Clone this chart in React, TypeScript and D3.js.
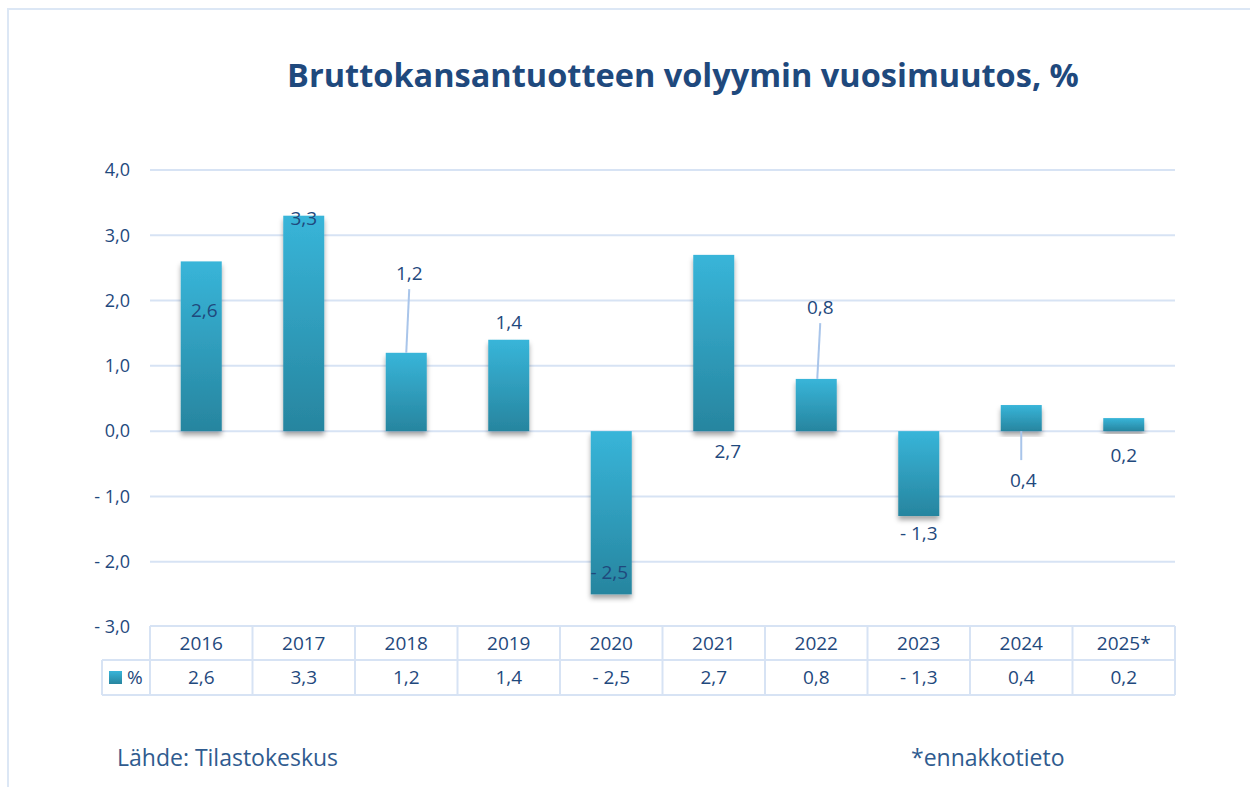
import React from 'react';
import * as d3 from 'd3';

const years = ['2016', '2017', '2018', '2019', '2020', '2021', '2022', '2023', '2024', '2025*'];
const values = [2.6, 3.3, 1.2, 1.4, -2.5, 2.7, 0.8, -1.3, 0.4, 0.2];
// where each data label sits, in axis units (Excel moved some of them by hand)
const labelAt = [1.85, 3.26, 2.42, 1.67, -2.17, -0.31, 1.9, -1.56, -0.75, -0.37];
const labelShift = [3, 0, 3, 0, -2, 14, 4, 0, 2, 0];
const leaderLines = [false, false, true, false, false, false, true, false, true, false];
const yTicks = [-3, -2, -1, 0, 1, 2, 3, 4];

const TITLE = 'Bruttokansantuotteen volyymin vuosimuutos, %';
const SOURCE = 'Lähde: Tilastokeskus';
const NOTE = '*ennakkotieto';

const W = 1250;
const H = 787;
const LEFT = 150;
const RIGHT = 1175;
const TEXT = '#1f497d';
const GRID = '#d7e3f4';
const FONT = '"Open Sans", Lato, sans-serif';

const fmt = (v: number) => {
    const s = Math.abs(v).toFixed(1).replace('.', ',');
    return v < 0 ? `- ${s}` : s;
};

const App = () => {
    const y = d3.scaleLinear([-3, 4], [627, 170]);
    const x = d3
        .scaleBand<string>(years, [LEFT, RIGHT])
        .paddingInner(0.6)
        .paddingOuter(0.3);
    const col = d3.scaleBand<string>(years, [LEFT, RIGHT]);
    const rowTop = y(-3) - 1;
    const rowMid = 660;
    const rowBot = 695;

    return (
        <svg
            width={W}
            height={H}
            style={{ position: 'absolute', left: 0, top: 0, background: '#fff' }}
            fontFamily={FONT}
        >
            <defs>
                <linearGradient id='barFill' x1='0' y1='0' x2='0' y2='1'>
                    <stop offset='0%' stopColor='#38b5d9' />
                    <stop offset='100%' stopColor='#27859f' />
                </linearGradient>
                <filter id='shadow' x='-30%' y='-10%' width='160%' height='130%'>
                    <feDropShadow dx='0' dy='4' stdDeviation='2.5' floodColor='#000' floodOpacity='0.35' />
                </filter>
            </defs>

            {/* outer frame, only top and left edges visible */}
            <rect x={8} y={9} width={W + 20} height={H + 20} fill='none' stroke='#dce7f5' strokeWidth={2} />

            <text
                x={683}
                y={87}
                textAnchor='middle'
                fontSize={32.5}
                fontWeight={700}
                fill={TEXT}
            >
                {TITLE}
            </text>

            {/* gridlines + y ticks */}
            {yTicks.map(t => (
                <g key={t}>
                    {t > -3 && (
                        <line x1={LEFT} x2={RIGHT} y1={y(t)} y2={y(t)} stroke={GRID} strokeWidth={2} />
                    )}
                    <text
                        x={130}
                        y={y(t)}
                        dy='0.35em'
                        textAnchor='end'
                        fontSize={18}
                        fill={TEXT}
                    >
                        {fmt(t)}
                    </text>
                </g>
            ))}

            {/* bars */}
            {values.map((v, i) => {
                const top = y(Math.max(0, v));
                const bot = y(Math.min(0, v));
                return (
                    <rect
                        key={years[i]}
                        x={x(years[i])}
                        y={top}
                        width={x.bandwidth()}
                        height={bot - top}
                        fill='url(#barFill)'
                        filter='url(#shadow)'
                    />
                );
            })}

            {/* data labels */}
            {values.map((v, i) => {
                const cx = (x(years[i]) ?? 0) + x.bandwidth() / 2 + labelShift[i];
                const ly = y(labelAt[i]);
                const up = labelAt[i] > v;
                const below = labelAt[i] < Math.min(v, 0);
                return (
                    <g key={years[i]}>
                        {leaderLines[i] && up && (
                            <line
                                x1={cx}
                                x2={cx - 3}
                                y1={ly + 16}
                                y2={y(v)}
                                stroke='#a9c5ea'
                                strokeWidth={2}
                            />
                        )}
                        {leaderLines[i] && below && (
                            <line
                                x1={cx - 2}
                                x2={cx - 2}
                                y1={y(0)}
                                y2={ly - 20}
                                stroke='#a9c5ea'
                                strokeWidth={2}
                            />
                        )}
                        <text x={cx} y={ly} dy='0.35em' textAnchor='middle' fontSize={19} fill={TEXT}>
                            {fmt(v)}
                        </text>
                    </g>
                );
            })}

            {/* data table */}
            <g stroke={GRID} strokeWidth={2} fill='none'>
                <line x1={LEFT} x2={RIGHT} y1={rowTop} y2={rowTop} />
                <line x1={102} x2={RIGHT} y1={rowMid} y2={rowMid} />
                <line x1={102} x2={RIGHT} y1={rowBot} y2={rowBot} />
                <line x1={102} x2={102} y1={rowMid} y2={rowBot} />
                {years.map(yr => (
                    <line key={yr} x1={col(yr)} x2={col(yr)} y1={rowTop} y2={rowBot} />
                ))}
                <line x1={RIGHT} x2={RIGHT} y1={rowTop} y2={rowBot} />
            </g>
            {years.map((yr, i) => {
                const cx = (col(yr) ?? 0) + col.bandwidth() / 2;
                return (
                    <g key={yr} fontSize={19} fill={TEXT} textAnchor='middle'>
                        <text x={cx} y={(rowTop + rowMid) / 2} dy='0.35em'>
                            {yr}
                        </text>
                        <text x={cx} y={(rowMid + rowBot) / 2} dy='0.35em'>
                            {fmt(values[i])}
                        </text>
                    </g>
                );
            })}
            <rect x={109} y={671} width={13} height={13} fill='url(#barFill)' />
            <text x={127} y={(rowMid + rowBot) / 2} dy='0.35em' fontSize={19} fill={TEXT}>
                %
            </text>

            <text x={117} y={766} fontSize={23} fill='#2f5b8f'>
                {SOURCE}
            </text>
            <text x={911} y={766} fontSize={23} fill='#2f5b8f'>
                {NOTE}
            </text>
        </svg>
    );
};

export default App;
